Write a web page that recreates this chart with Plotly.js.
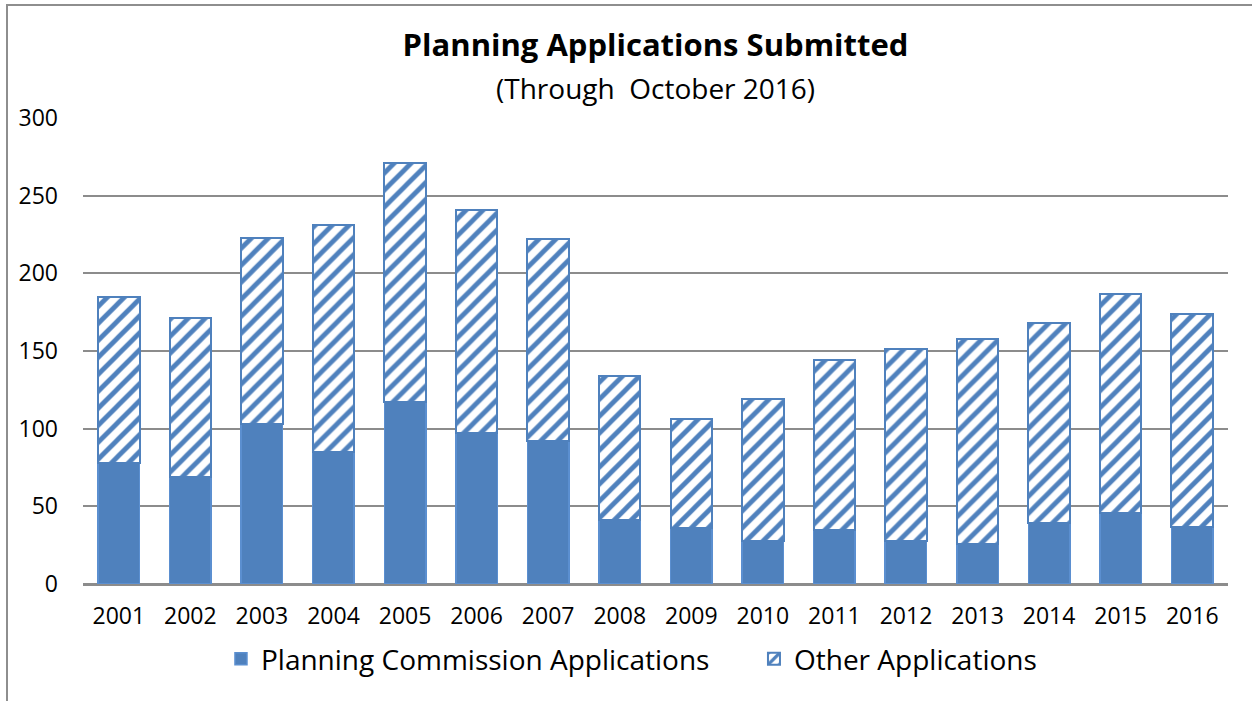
<!DOCTYPE html>
<html>
<head>
<meta charset="utf-8">
<script src="https://cdn.plot.ly/plotly-3.0.1.min.js"></script>
<style>
  html, body { margin: 0; padding: 0; background: #fff; }
  #wrap { position: relative; width: 1252px; height: 701px; overflow: hidden; }
  #chart { position: absolute; left: 0; top: 0; width: 1252px; height: 701px; }
  #frame { position: absolute; left: 6px; top: 4px; width: 1400px; height: 800px;
           border-left: 2px solid #8e8e8e; border-top: 2px solid #8e8e8e; pointer-events: none; }
</style>
</head>
<body>
<div id="wrap">
  <div id="chart"></div>
  <div id="frame"></div>
</div>
<script>
const years = ['2001','2002','2003','2004','2005','2006','2007','2008','2009','2010','2011','2012','2013','2014','2015','2016'];
const planningCommission = [78, 69, 103, 85, 117, 97, 92, 41, 36, 28, 35, 28, 26, 39, 46, 37];
const otherApplications = [107, 102, 120, 146, 154, 144, 130, 93, 70, 91, 109, 123, 132, 129, 141, 137];
const yTicks = [0, 50, 100, 150, 200, 250, 300];

const FONT = 'Open Sans, sans-serif';
const BLUE = '#4F81BD';

const traces = [
  {
    type: 'bar', name: 'Planning Commission Applications', legend: 'legend',
    x: years, y: planningCommission,
    marker: { color: BLUE, line: { color: '#5B8FD0', width: 1.5 } }
  },
  {
    type: 'bar', name: 'Other Applications', legend: 'legend2',
    x: years, y: otherApplications,
    marker: {
      color: '#ffffff',
      line: { color: BLUE, width: 2 },
      pattern: { shape: '/', fgcolor: BLUE, bgcolor: '#ffffff', size: 12, solidity: 0.4, fillmode: 'replace' }
    }
  }
];

const legendBase = {
  orientation: 'h', xanchor: 'left', y: -0.161, yanchor: 'middle',
  font: { size: 28, family: FONT }, bgcolor: 'rgba(0,0,0,0)'
};

const layout = {
  width: 1252, height: 701,
  paper_bgcolor: '#ffffff', plot_bgcolor: '#ffffff',
  margin: { l: 83, r: 24, t: 118, b: 117 },
  barmode: 'stack', bargap: 0.42,
  font: { family: FONT, color: '#000000', size: 23 },
  title: {
    text: '<b>Planning Applications Submitted</b>',
    font: { family: FONT, size: 31, color: '#000' },
    x: 0.5, xanchor: 'center', xref: 'paper', y: 1 - 45 / 701, yanchor: 'middle', yref: 'container'
  },
  annotations: [{
    text: '(Through  October 2016)', xref: 'paper', yref: 'paper',
    x: 0.5, xanchor: 'center', y: 1.064, yanchor: 'middle', showarrow: false,
    font: { family: FONT, size: 28, color: '#000' }
  }],
  xaxis: {
    type: 'category', tickfont: { size: 23, family: FONT },
    showgrid: false, showline: true, linecolor: '#8c8c8c', linewidth: 2,
    ticks: '', ticklabelstandoff: 10, fixedrange: true
  },
  yaxis: {
    range: [0, 300], tickvals: yTicks, ticktext: yTicks.map(String),
    tickfont: { size: 23, family: FONT },
    showgrid: true, gridcolor: '#8c8c8c', gridwidth: 2,
    zeroline: true, zerolinecolor: '#8c8c8c', zerolinewidth: 2,
    showline: false, ticks: '', ticklabelstandoff: 24, fixedrange: true
  },
  legend: Object.assign({}, legendBase, { x: 0.1205 }),
  legend2: Object.assign({}, legendBase, { x: 0.586 }),
  showlegend: true
};

Plotly.newPlot('chart', traces, layout, { displayModeBar: false, staticPlot: true });
</script>
</body>
</html>
